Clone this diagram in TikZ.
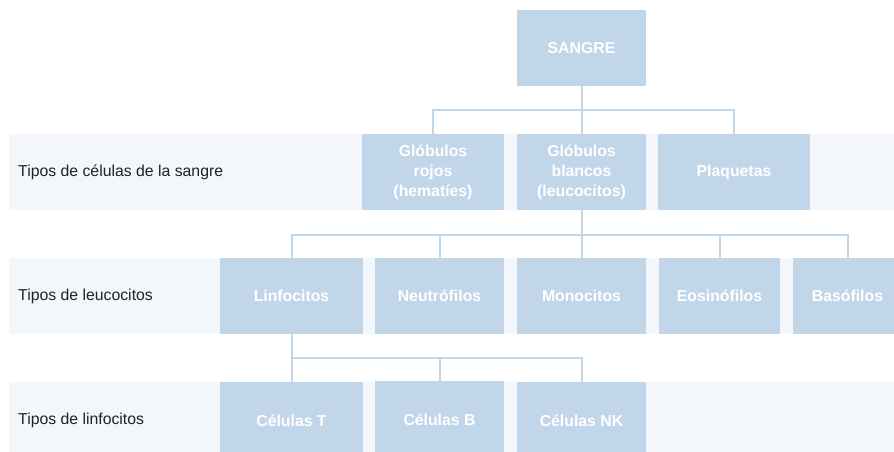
\documentclass[tikz,border=0pt]{standalone}
\usepackage{fontspec}
\setmainfont{Liberation Sans}
\definecolor{boxc}{HTML}{C2D6EA}
\definecolor{bandc}{HTML}{F3F6FB}
\definecolor{labc}{HTML}{222222}
\tikzset{
  cellbox/.style={fill=boxc, text=white, font=\fontsize{15.8}{20}\selectfont\bfseries, align=center, inner sep=0pt, minimum height=76pt},
  rowlabel/.style={text=labc, font=\fontsize{15.8}{20}\selectfont, anchor=west, inner sep=0pt},
  conn/.style={draw=boxc, line width=2pt}
}
\begin{document}
\begin{tikzpicture}[x=1pt,y=-1pt]
\useasboundingbox (0,0) rectangle (894,452);
\clip (0,0) rectangle (894,452);
% bands
\fill[bandc] (9,134) rectangle (894,210);
\fill[bandc] (9,258) rectangle (894,334);
\fill[bandc] (9,382) rectangle (894,460);
% labels
\node[rowlabel] (l1) at (18,172) {Tipos de células de la sangre};
\node[rowlabel] (l2) at (18,296) {Tipos de leucocitos};
\node[rowlabel] (l3) at (18,420) {Tipos de linfocitos};
% nodes
\node[cellbox, minimum width=129pt] (sangre) at (581.5,48) {SANGRE};
\node[cellbox, minimum width=142pt] (rojos) at (433,172) {Glóbulos\\rojos\\(hematíes)};
\node[cellbox, minimum width=129pt] (blancos) at (581.5,172) {Glóbulos\\blancos\\(leucocitos)};
\node[cellbox, minimum width=152pt] (plaq) at (734,172) {Plaquetas};
\node[cellbox, minimum width=143pt] (linf) at (291.5,296) {Linfocitos};
\node[cellbox, minimum width=129pt] (neut) at (439.5,296) {Neutrófilos};
\node[cellbox, minimum width=129pt] (mono) at (581.5,296) {Monocitos};
\node[cellbox, minimum width=121pt] (eos) at (719.5,296) {Eosinófilos};
\node[cellbox, minimum width=109pt] (bas) at (847.5,296) {Basófilos};
\node[cellbox, minimum width=143pt, minimum height=78pt] (ct) at (291.5,421) {Células T};
\node[cellbox, minimum width=129pt, minimum height=78pt] (cb) at (439.5,420) {Células B};
\node[cellbox, minimum width=129pt, minimum height=78pt] (cnk) at (581.5,421) {Células NK};
% bus levels
\coordinate (b1) at (0,110);
\coordinate (b2) at (0,235);
\coordinate (b3) at (0,358);
% connectors level 1
\draw[conn] (sangre.south) -- (sangre.south |- b1);
\draw[conn] (rojos.north) -- (rojos.north |- b1) -- (plaq.north |- b1) -- (plaq.north);
\draw[conn] (blancos.north) -- (blancos.north |- b1);
% level 2
\draw[conn] (blancos.south) -- (blancos.south |- b2);
\draw[conn] (linf.north) -- (linf.north |- b2) -- (bas.north |- b2) -- (bas.north);
\draw[conn] (neut.north) -- (neut.north |- b2);
\draw[conn] (mono.north) -- (mono.north |- b2);
\draw[conn] (eos.north) -- (eos.north |- b2);
% level 3
\draw[conn] (linf.south) -- (linf.south |- b3);
\draw[conn] (ct.north) -- (ct.north |- b3) -- (cnk.north |- b3) -- (cnk.north);
\draw[conn] (cb.north) -- (cb.north |- b3);
\end{tikzpicture}
\end{document}
